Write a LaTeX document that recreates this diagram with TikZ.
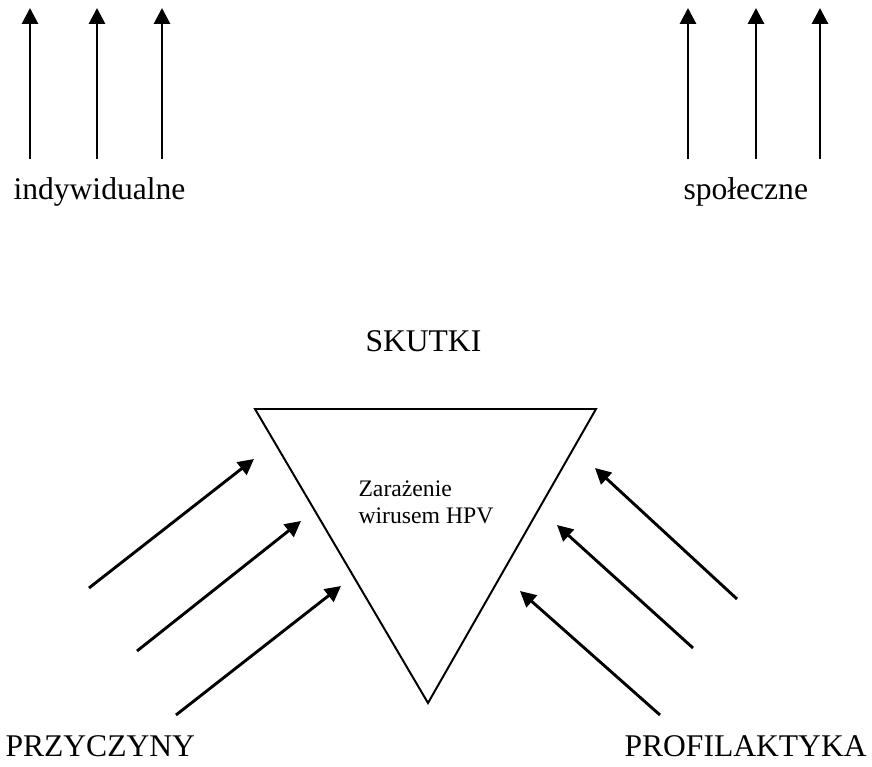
\documentclass[tikz,border=0pt]{standalone}
\usepackage{fontspec}
\setmainfont{Liberation Serif}
\usetikzlibrary{arrows.meta}
\begin{document}
\begin{tikzpicture}[x=0.38pt,y=-0.38pt,
	>={Triangle[length=6pt,width=6pt]},
	pil/.style={->,line width=1.1pt},
	lbl/.style={inner sep=0pt,anchor=base west,font=\fontsize{12}{14}\selectfont},
	opis/.style={inner sep=0pt,anchor=base west,align=left,font=\fontsize{9}{10.6}\selectfont}]
	\useasboundingbox (0,0) rectangle (872,767);
	% skutki indywidualne i spoleczne
	\foreach \x [count=\i] in {30,97,162}{
		\coordinate (li\i) at (\x,159);
		\coordinate (lt\i) at (\x,8);
		\draw[pil](li\i)--(lt\i);
	}
	\foreach \x [count=\i] in {688,756,820}{
		\coordinate (ri\i) at (\x,159);
		\coordinate (rt\i) at (\x,8);
		\draw[pil](ri\i)--(rt\i);
	}
	\node[lbl] (indyw) at (13,200) {indywidualne};
	\node[lbl] (spol) at (683,200) {społeczne};
	\node[lbl] (skutki) at (365,352) {SKUTKI};
	% trojkat
	\coordinate (A) at (255,409);
	\coordinate (B) at (596,409);
	\coordinate (C) at (428,703);
	\draw[line width=0.75pt,line join=miter](A)--(B)--(C)--cycle;
	\node[opis] (hpv) at (358,524) {Zarażenie\\wirusem HPV};
	% przyczyny
	\coordinate (p1) at (89,588);  \coordinate (q1) at (254,459);
	\coordinate (p2) at (137,651); \coordinate (q2) at (301,521);
	\coordinate (p3) at (176,715); \coordinate (q3) at (341,586);
	\draw[pil](p1)--(q1);
	\draw[pil](p2)--(q2);
	\draw[pil](p3)--(q3);
	% profilaktyka
	\coordinate (f1) at (737,599); \coordinate (g1) at (595,468);
	\coordinate (f2) at (693,648); \coordinate (g2) at (557,525);
	\coordinate (f3) at (660,715); \coordinate (g3) at (520,591);
	\draw[pil](f1)--(g1);
	\draw[pil](f2)--(g2);
	\draw[pil](f3)--(g3);
	\node[lbl] (przycz) at (5,757) {PRZYCZYNY};
	\node[lbl] (profil) at (624,757) {PROFILAKTYKA};
\end{tikzpicture}
\end{document}
